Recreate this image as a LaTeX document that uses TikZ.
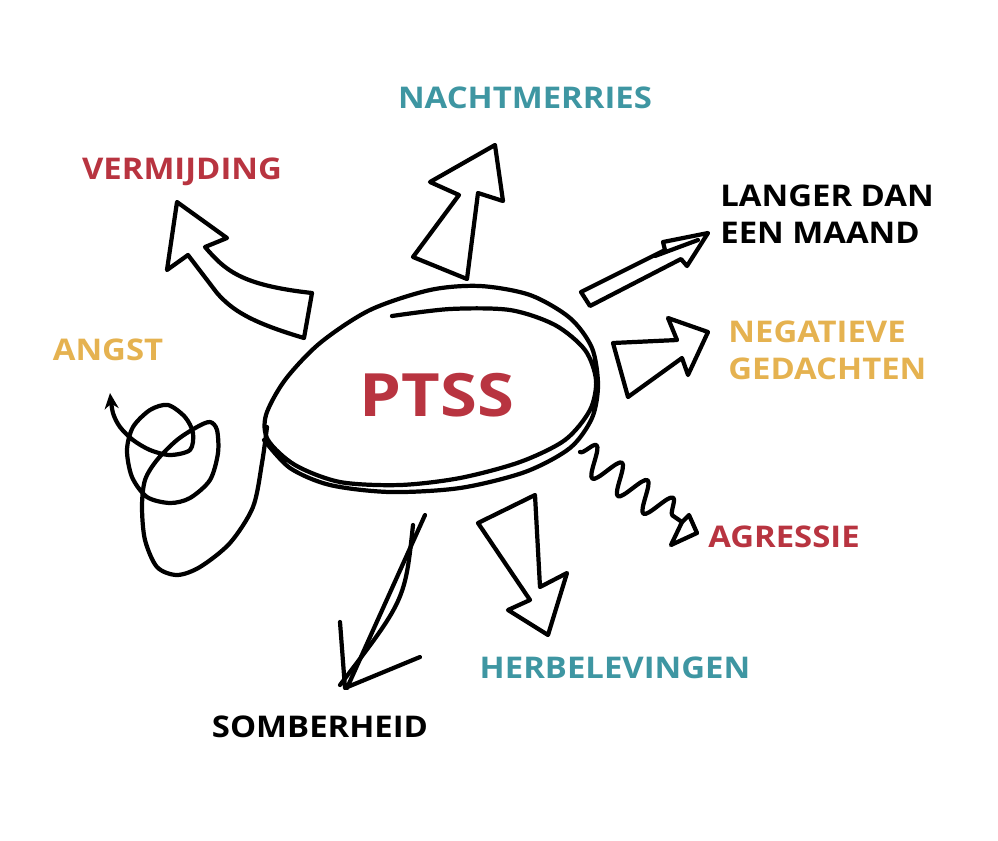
\documentclass[tikz,border=0pt]{standalone}
\usepackage{fontspec}
\setmainfont{Open Sans}
\usetikzlibrary{arrows.meta,decorations.pathmorphing}
\definecolor{ptred}{RGB}{184,52,64}
\definecolor{ptteal}{RGB}{62,150,162}
\definecolor{ptgold}{RGB}{229,178,80}
\tikzset{
  word/.style={font=\bfseries\fontsize{17}{21}\selectfont,inner sep=0pt,xscale=1.1},
  sketch/.style={line width=2.4pt,line join=round,line cap=round}
}
\begin{document}
\begin{tikzpicture}[x=0.02cm,y=-0.02cm]
  \useasboundingbox (0,0) rectangle (998,840);
  \node[word,ptteal] (nacht) at (525,98) {NACHTMERRIES};
  \node[word,ptred] (verm) at (182,172) {VERMIJDING};
  \node[word,align=left,anchor=west] (langer) at (720,214) {LANGER DAN\\EEN MAAND};
  \node[word,ptgold,align=left,anchor=west] (negat) at (728,350) {NEGATIEVE\\GEDACHTEN};
  \node[word,ptgold] (angst) at (108,350) {ANGST};
  \node[word,ptred] (agr) at (784,537) {AGRESSIE};
  \node[word,ptteal] (herb) at (615,668) {HERBELEVINGEN};
  \node[word] (somb) at (320,727) {SOMBERHEID};
  \node[font=\bfseries\fontsize{34}{38}\selectfont,ptred,inner sep=0pt,xscale=1.12] (ptss) at (437,395) {PTSS};
  \draw[sketch] plot[smooth] coordinates {(392,316) (450,309) (510,310) (555,325) (585,350)
    (596,380) (590,410) (565,440) (520,462) (460,478) (400,485) (340,482) (295,465)
    (268,440) (266,415) (285,380) (320,343) (370,310) (430,290) (480,286) (530,295)
    (570,318) (592,348) (598,385) (592,418) (570,448) (525,472) (460,488) (390,492)
    (330,485) (290,468) (264,440)};
  \draw[sketch,-{Stealth[length=9pt,width=8pt]}] plot[smooth] coordinates {(267,427) (262,463)
    (253,507) (230,543) (200,567) (177,575) (157,567) (145,540) (142,507) (145,480)
    (157,460) (177,440) (197,427) (210,422) (217,430) (218,453) (210,480) (190,498)
    (170,503) (147,497) (132,477) (127,450) (133,427) (150,410) (168,405) (185,417)
    (193,433) (190,450) (170,455) (150,450) (133,440) (120,427) (113,413) (110,393)};
  \draw[sketch] (177,202) -- (227,238) -- (205,247) .. controls (225,270) and (240,285) ..
    (312,293) -- (304,338) .. controls (250,322) and (232,310) .. (217,293) --
    (188,255) -- (167,270) -- cycle;
  \draw[sketch] (495,145) -- (503,201) -- (478,193) -- (467,279) -- (413,257) --
    (459,195) -- (430,182) -- cycle;
  \draw[sketch] (581,292) -- (665,250) -- (663,242) -- (708,233) -- (687,266) --
    (681,259) -- (590,306) -- cycle;
  \draw[sketch] (655,256) -- (698,240);
  \draw[sketch] (708,332) -- (668,318) -- (677,340) -- (613,343) -- (628,397) --
    (682,358) -- (688,375) -- cycle;
  \draw[sketch,decorate,decoration={snake,segment length=0.62cm,amplitude=0.3cm}]
    (580,452) -- (682,522);
  \draw[sketch] (682,522) -- (671,545) -- (697,533) -- (689,515) -- cycle;
  \draw[sketch] (548,635) -- (567,573) -- (540,587) -- (535,495) -- (478,523) --
    (530,600) -- (508,610) -- cycle;
  \draw[sketch] (425,515) -- (347,688);
  \draw[sketch] (413,525) .. controls (405,600) .. (340,685);
  \draw[sketch] (340,622) -- (345,688) -- (420,657);
\end{tikzpicture}
\end{document}
